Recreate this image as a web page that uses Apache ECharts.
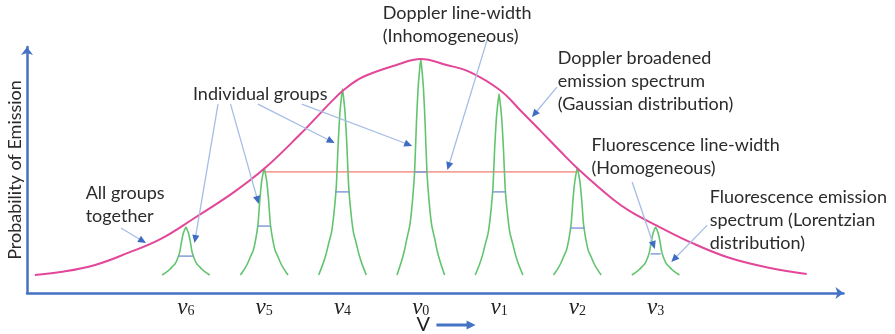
<!DOCTYPE html>
<html>
<head>
<meta charset="utf-8">
<script src="https://cdn.jsdelivr.net/npm/echarts@6/dist/echarts.min.js"></script>
<style>
  html, body { margin: 0; padding: 0; background: #ffffff; }
  #chart { width: 895px; height: 334px; }
</style>
</head>
<body>
<div id="chart"></div>
<script>
// Individual groups: centre frequency (in units of group spacing, ν0 = 0) and subscript
const groupNames = ['6', '5', '4', '0', '1', '2', '3'];
const groupPos = [-3, -2, -1, 0, 1, 2, 3];
// Peak height of each group's Lorentzian line and the common baseline
const groupPeak = [26.8, 50.8, 82.9, 95.1, 80.9, 50.8, 26.8];
const groupBase = 7.3;
// Homogeneous (fluorescence) line-width markers: height and half span
const widthHeight = [15.0, 27.2, 41.1, 49.2, 41.1, 26.4, 15.9];
const widthHalf = [0.096, 0.080, 0.096, 0.080, 0.089, 0.096, 0.064];
// Lorentzian line shape: offset from line centre and fraction of peak height
const shapeOffset = [0, 0.015, 0.034, 0.055, 0.079, 0.111, 0.140, 0.176, 0.211, 0.249, 0.304];
const shapeFrac = [1, 0.95, 0.866, 0.708, 0.477, 0.324, 0.23, 0.171, 0.11, 0.06, 0];
// Doppler broadened (Gaussian) envelope
const envX = [-4.93, -4.60, -4.16, -3.74, -3.32, -2.89, -2.40, -1.99, -1.55, -1.33, -1.16, -0.97, -0.74, -0.31, 0.0,
              0.33, 0.63, 1.01, 1.28, 1.53, 1.78, 2.01, 2.45, 2.67, 3.05, 3.44, 3.95, 4.46, 4.93];
const envY = [7.3, 8.5, 11.4, 16.3, 22.0, 30.5, 40.7, 50.8, 64.2, 71.5, 77.2, 82.9, 87.8, 92.7, 95.1,
              92.7, 89.8, 82.5, 74.0, 65.9, 57.7, 50.4, 38.2, 33.3, 26.8, 20.7, 14.2, 10.2, 7.7];
// Inhomogeneous (Doppler) line-width
const dopplerWidthX = [-2, 2];
const dopplerWidthY = 49.2;
// Annotation texts: left edge, top edge (data units) and lines
const noteX = [-0.485, 1.75, 2.18, 3.69, -2.91, -4.28];
const noteY = [118.5, 100.2, 64.8, 43.7, 85.6, 45.3];
const noteText = [
  'Doppler line-width\n(Inhomogeneous)',
  'Doppler broadened\nemission spectrum\n(Gaussian distribution)',
  'Fluorescence line-width\n(Homogeneous)',
  'Fluorescence emission\nspectrum (Lorentzian\ndistribution)',
  'Individual groups',
  'All groups\ntogether'
];
// Pointer arrows: start x, start y, tip x, tip y
const arrows = [
  [-3.83, 26.4, -3.51, 20.3],
  [-2.59, 76.8, -2.89, 20.3],
  [-2.43, 76.8, -2.07, 36.2],
  [-2.08, 76.8, -1.10, 61.0],
  [-1.52, 76.8, -0.11, 59.8],
  [0.86, 104.1, 0.34, 50.0],
  [1.74, 83.7, 1.42, 71.5],
  [2.70, 45.1, 2.99, 17.9],
  [3.66, 27.6, 3.20, 12.6]
];
// Frequency-axis direction arrow beside the axis title
const freqArrow = [0.20, -13.0, 0.70, -13.0];

const AXIS_BLUE = '#4472c4';
const TEXT_FONT = 'Lato, "Open Sans", sans-serif';
const TEXT_SIZE = 18;

const chart = echarts.init(document.getElementById('chart'), null, { renderer: 'canvas' });

// Build each group's Lorentzian profile from the shared shape
const groupSeries = groupPos.map((c, g) => {
  const pts = [];
  for (let i = shapeOffset.length - 1; i >= 0; i--) {
    pts.push([c - shapeOffset[i], groupBase + shapeFrac[i] * (groupPeak[g] - groupBase)]);
  }
  for (let i = 1; i < shapeOffset.length; i++) {
    pts.push([c + shapeOffset[i], groupBase + shapeFrac[i] * (groupPeak[g] - groupBase)]);
  }
  return {
    type: 'line', data: pts, showSymbol: false, smooth: 0.2, silent: true,
    lineStyle: { color: '#63c46e', width: 1.6 }, z: 2
  };
});

const envelope = envX.map((x, i) => [x, envY[i]]);

function arrowItem(params, api, color, headColor) {
  const p1 = api.coord([api.value(0), api.value(1)]);
  const p2 = api.coord([api.value(2), api.value(3)]);
  const dx = p2[0] - p1[0], dy = p2[1] - p1[1];
  const len = Math.sqrt(dx * dx + dy * dy);
  const ux = dx / len, uy = dy / len;
  const L = 8, W = 3.6;
  const bx = p2[0] - ux * L, by = p2[1] - uy * L;
  return {
    type: 'group',
    children: [
      { type: 'line', shape: { x1: p1[0], y1: p1[1], x2: bx + ux * 2, y2: by + uy * 2 },
        style: { stroke: color, lineWidth: 1.3 } },
      { type: 'polygon', shape: { points: [[p2[0], p2[1]], [bx - uy * W, by + ux * W], [bx + uy * W, by - ux * W]] },
        style: { fill: headColor } }
    ]
  };
}

const option = {
  animation: false,
  backgroundColor: '#ffffff',
  grid: { left: 27, right: 51.5, top: 47, bottom: 41, containLabel: false, outerBoundsMode: 'none' },
  xAxis: {
    type: 'value', min: -5.03, max: 5.40,
    name: 'V', nameLocation: 'middle', nameGap: 22, nameMoveOverlap: false,
    nameTextStyle: { fontFamily: TEXT_FONT, fontSize: 20, color: '#222222', padding: [0, 24, 0, 0] },
    axisLine: { onZero: false, symbol: ['none', 'arrow'], symbolSize: [9, 8], lineStyle: { color: AXIS_BLUE, width: 2.5 } },
    axisTick: { show: false },
    splitLine: { show: false },
    axisLabel: {
      customValues: groupPos,
      margin: 3,
      formatter: v => '{n|ν}{s|' + groupNames[groupPos.indexOf(v)] + '}',
      rich: {
        n: { fontFamily: '"Liberation Serif", "DejaVu Serif", serif', fontStyle: 'italic', fontSize: 23, color: '#222222' },
        s: { fontFamily: '"Liberation Serif", "DejaVu Serif", serif', fontSize: 14, color: '#222222', padding: [7, 0, 0, 0] }
      }
    }
  },
  yAxis: {
    type: 'value', min: 0, max: 100,
    name: 'Probability of Emission', nameLocation: 'middle', nameGap: 3, nameRotate: 90, nameMoveOverlap: false,
    nameTextStyle: { fontFamily: TEXT_FONT, fontSize: TEXT_SIZE, color: '#2b2b2b' },
    axisLine: { onZero: false, symbol: ['none', 'arrow'], symbolSize: [9, 8], lineStyle: { color: AXIS_BLUE, width: 2.5 } },
    axisTick: { show: false },
    axisLabel: { show: false },
    splitLine: { show: false }
  },
  series: [
    ...groupSeries,
    {
      type: 'line', data: envelope, showSymbol: false, smooth: 0.4, silent: true,
      lineStyle: { color: '#e2479a', width: 2 }, z: 3
    },
    {
      type: 'line', data: dopplerWidthX.map(x => [x, dopplerWidthY]), showSymbol: false, silent: true,
      lineStyle: { color: '#f5a299', width: 1.8 }, z: 1
    },
    {
      // homogeneous line-width markers
      type: 'custom', silent: true, z: 4,
      data: groupPos.map((c, i) => [c, widthHeight[i], widthHalf[i]]),
      renderItem: (params, api) => {
        const a = api.coord([api.value(0) - api.value(2), api.value(1)]);
        const b = api.coord([api.value(0) + api.value(2), api.value(1)]);
        return { type: 'line', shape: { x1: a[0], y1: a[1], x2: b[0], y2: b[1] },
                 style: { stroke: '#7b97d6', lineWidth: 1.4 } };
      }
    },
    {
      // pointer arrows
      type: 'custom', silent: true, z: 6, clip: false,
      data: arrows,
      renderItem: (params, api) => arrowItem(params, api, '#a6bde6', '#3d6cc2')
    },
    {
      // direction of increasing frequency
      type: 'custom', silent: true, z: 6, clip: false,
      data: [freqArrow],
      renderItem: (params, api) => {
        const p1 = api.coord([api.value(0), api.value(1)]);
        const p2 = api.coord([api.value(2), api.value(3)]);
        return {
          type: 'group',
          children: [
            { type: 'line', shape: { x1: p1[0], y1: p1[1], x2: p2[0] - 6, y2: p2[1] },
              style: { stroke: AXIS_BLUE, lineWidth: 2.8 } },
            { type: 'polygon', shape: { points: [[p2[0], p2[1]], [p2[0] - 9, p2[1] - 4.5], [p2[0] - 9, p2[1] + 4.5]] },
              style: { fill: AXIS_BLUE } }
          ]
        };
      }
    },
    {
      // annotation texts
      type: 'custom', silent: true, z: 7, clip: false,
      data: noteX.map((x, i) => [x, noteY[i], i]),
      renderItem: (params, api) => {
        const p = api.coord([api.value(0), api.value(1)]);
        return {
          type: 'text', x: p[0], y: p[1],
          style: {
            text: noteText[api.value(2)], fill: '#2b2b2b',
            fontFamily: TEXT_FONT, fontSize: TEXT_SIZE, lineHeight: 23,
            align: 'left', verticalAlign: 'top'
          }
        };
      }
    }
  ]
};

chart.setOption(option);
</script>
</body>
</html>
